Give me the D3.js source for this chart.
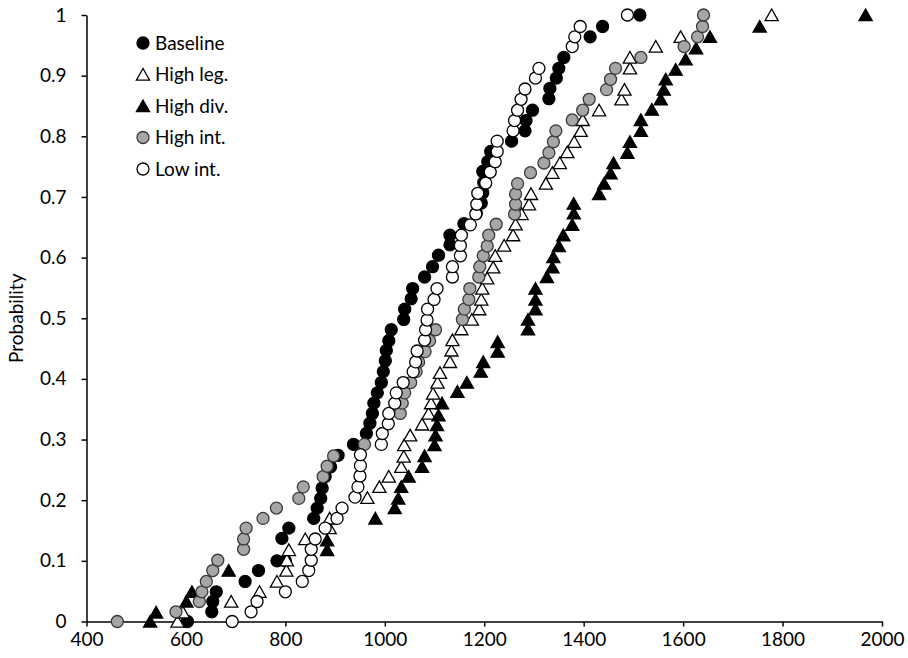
<!DOCTYPE html>
<html>
<head>
<meta charset="utf-8">
<script src="https://cdn.jsdelivr.net/npm/d3@7"></script>
<style>
  body { margin: 0; background: #fff; }
  svg { display: block; }
  .axis text { font-family: Lato, "Open Sans", sans-serif; font-size: 19px; fill: #000; }
  .axis path, .axis line { stroke: #000; stroke-width: 1.5; }
</style>
</head>
<body>
<div id="chart"></div>
<script>
// values: [x, cumulative probability]
const baseline = [
  [603,0],[652,0.016],[654,0.033],[661,0.049],[719,0.066],[746,0.084],[783,0.1],[800,0.1],
  [793,0.137],[807,0.154],[857,0.17],[864,0.187],[871,0.203],[874,0.22],[880,0.239],[891,0.255],
  [906,0.274],[937,0.292],[963,0.31],[970,0.327],[975,0.343],[978,0.36],[985,0.377],[993,0.394],
  [997,0.412],[1001,0.43],[1003,0.447],[1008,0.463],[1013,0.481],[1038,0.498],[1040,0.515],
  [1053,0.532],[1056,0.549],[1080,0.568],[1096,0.585],[1108,0.604],[1131,0.621],[1131,0.637],
  [1159,0.656],[1184,0.673],[1194,0.69],[1197,0.707],[1199,0.724],[1197,0.742],[1207,0.758],
  [1213,0.775],[1255,0.792],[1282,0.809],[1284,0.826],[1297,0.843],[1330,0.862],[1332,0.879],
  [1345,0.896],[1350,0.912],[1360,0.93],[1413,0.964],[1438,0.981],[1513,1]
];
const highLeg = [
  [583,0],[594,0.015],[691,0.033],[748,0.049],[783,0.066],[802,0.084],[803,0.101],[807,0.118],
  [840,0.136],[889,0.154],[889,0.17],[965,0.204],[989,0.222],[1008,0.239],[1033,0.255],[1038,0.272],
  [1039,0.291],[1051,0.307],[1075,0.325],[1088,0.343],[1093,0.36],[1097,0.376],[1106,0.394],
  [1111,0.41],[1131,0.428],[1134,0.447],[1136,0.464],[1154,0.482],[1175,0.498],[1190,0.515],
  [1194,0.531],[1196,0.549],[1206,0.566],[1218,0.584],[1222,0.603],[1240,0.62],[1258,0.637],
  [1263,0.655],[1275,0.672],[1290,0.688],[1294,0.705],[1324,0.722],[1337,0.74],[1352,0.756],
  [1367,0.774],[1381,0.791],[1394,0.809],[1398,0.827],[1431,0.843],[1476,0.861],[1482,0.877],
  [1493,0.912],[1493,0.93],[1545,0.948],[1595,0.964],[1778,1]
];
const highDiv = [
  [528,0],[540,0.015],[601,0.033],[612,0.049],[686,0.084],[884,0.118],[884,0.134],[981,0.17],
  [1020,0.187],[1027,0.203],[1033,0.222],[1048,0.239],[1075,0.255],[1080,0.273],[1100,0.291],
  [1102,0.307],[1105,0.324],[1108,0.34],[1115,0.36],[1146,0.379],[1165,0.394],[1193,0.412],
  [1198,0.428],[1227,0.445],[1227,0.461],[1288,0.482],[1288,0.498],[1303,0.515],[1303,0.531],
  [1303,0.549],[1326,0.568],[1337,0.584],[1339,0.601],[1350,0.619],[1359,0.637],[1377,0.654],
  [1380,0.673],[1380,0.689],[1431,0.705],[1441,0.722],[1454,0.739],[1460,0.756],[1488,0.773],
  [1493,0.791],[1515,0.809],[1515,0.827],[1537,0.844],[1555,0.861],[1561,0.877],[1565,0.894],
  [1585,0.91],[1605,0.927],[1626,0.945],[1654,0.964],[1754,0.981],[1967,1]
];
const highInt = [
  [462,0],[580,0.016],[627,0.033],[632,0.049],[641,0.066],[654,0.084],[664,0.101],[716,0.119],
  [716,0.136],[721,0.154],[755,0.17],[782,0.187],[827,0.203],[836,0.222],[876,0.239],[884,0.256],
  [897,0.273],[959,0.292],[1031,0.343],[1035,0.36],[1040,0.377],[1052,0.394],[1063,0.412],
  [1068,0.428],[1081,0.445],[1090,0.463],[1102,0.481],[1156,0.498],[1160,0.515],[1169,0.531],
  [1171,0.549],[1189,0.568],[1191,0.585],[1198,0.603],[1206,0.619],[1209,0.637],[1224,0.655],
  [1261,0.672],[1263,0.688],[1263,0.705],[1267,0.722],[1293,0.74],[1320,0.756],[1330,0.773],
  [1339,0.791],[1344,0.809],[1377,0.827],[1398,0.843],[1411,0.861],[1446,0.877],[1454,0.894],
  [1464,0.912],[1515,0.93],[1602,0.948],[1629,0.964],[1639,0.981],[1641,1]
];
const lowInt = [
  [693,0],[731,0.016],[743,0.033],[800,0.049],[834,0.066],[847,0.084],[852,0.101],[852,0.119],
  [860,0.136],[880,0.154],[904,0.17],[914,0.187],[940,0.205],[946,0.222],[950,0.24],[951,0.257],
  [951,0.275],[993,0.292],[995,0.31],[1007,0.326],[1008,0.343],[1020,0.36],[1023,0.377],
  [1037,0.394],[1057,0.412],[1062,0.428],[1065,0.446],[1080,0.464],[1082,0.481],[1085,0.497],
  [1086,0.515],[1099,0.531],[1105,0.549],[1136,0.568],[1136,0.585],[1152,0.603],[1152,0.62],
  [1154,0.637],[1172,0.654],[1183,0.672],[1185,0.688],[1187,0.706],[1203,0.723],[1212,0.741],
  [1222,0.758],[1226,0.775],[1226,0.792],[1258,0.809],[1261,0.826],[1267,0.843],[1274,0.861],
  [1282,0.878],[1303,0.896],[1310,0.912],[1377,0.948],[1382,0.964],[1393,0.981],[1488,1]
];

const seriesNames = ["Baseline", "High leg.", "High div.", "High int.", "Low int."];
const xTicks = [400, 600, 800, 1000, 1200, 1400, 1600, 1800, 2000];
const yTicks = [0, 0.1, 0.2, 0.3, 0.4, 0.5, 0.6, 0.7, 0.8, 0.9, 1];
const yTickLabels = ["0", "0.1", "0.2", "0.3", "0.4", "0.5", "0.6", "0.7", "0.8", "0.9", "1"];

const width = 908, height = 658;
const margin = {top: 15, right: 26, bottom: 36.5, left: 86.5};

const svg = d3.select("#chart").append("svg")
  .attr("width", width)
  .attr("height", height);

const x = d3.scaleLinear().domain([400, 2000]).range([margin.left, width - margin.right]);
const y = d3.scaleLinear().domain([0, 1]).range([height - margin.bottom, margin.top]);

// marker styles per series
const styles = [
  {shape: "circle", fill: "#000", stroke: "#000"},
  {shape: "triangle", fill: "#fff", stroke: "#000"},
  {shape: "triangle", fill: "#000", stroke: "#000"},
  {shape: "circle", fill: "#a6a6a6", stroke: "#3a3a3a"},
  {shape: "circle", fill: "#fff", stroke: "#000"}
];
const allSeries = [baseline, highLeg, highDiv, highInt, lowInt];

const triPath = "M0,-6 L6.6,5.6 L-6.6,5.6 Z";

function addMarker(g, st, cx, cy) {
  if (st.shape === "circle") {
    g.append("circle")
      .attr("cx", cx).attr("cy", cy).attr("r", 6)
      .attr("fill", st.fill).attr("stroke", st.stroke).attr("stroke-width", 1.3);
  } else {
    g.append("path")
      .attr("d", triPath)
      .attr("transform", `translate(${cx},${cy})`)
      .attr("fill", st.fill).attr("stroke", st.stroke).attr("stroke-width", 1.3)
      .attr("stroke-linejoin", "miter");
  }
}

// axes
svg.append("g")
  .attr("class", "axis")
  .attr("transform", `translate(0,${y(0)})`)
  .call(d3.axisBottom(x).tickValues(xTicks).tickSize(5).tickSizeOuter(0).tickPadding(6).tickFormat(d3.format("d")));

svg.append("g")
  .attr("class", "axis")
  .attr("transform", `translate(${x(400)},0)`)
  .call(d3.axisLeft(y).tickValues(yTicks).tickSize(5).tickSizeOuter(0).tickPadding(15)
    .tickFormat((d, i) => yTickLabels[i]));

// y label
svg.append("text")
  .attr("transform", `translate(23,${(y(0) + y(1)) / 2}) rotate(-90)`)
  .attr("text-anchor", "middle")
  .style("font-family", "Lato, 'Open Sans', sans-serif")
  .style("font-size", "19px")
  .text("Probability");

// points
allSeries.forEach((data, i) => {
  const g = svg.append("g");
  data.forEach(d => addMarker(g, styles[i], x(d[0]), y(d[1])));
});

// legend
const legend = svg.append("g");
seriesNames.forEach((name, i) => {
  const ly = 43 + i * 31.5;
  addMarker(legend, styles[i], 143, ly);
  legend.append("text")
    .attr("x", 155)
    .attr("y", ly)
    .attr("dy", "0.35em")
    .style("font-family", "Lato, 'Open Sans', sans-serif")
    .style("font-size", "19px")
    .text(name);
});
</script>
</body>
</html>
